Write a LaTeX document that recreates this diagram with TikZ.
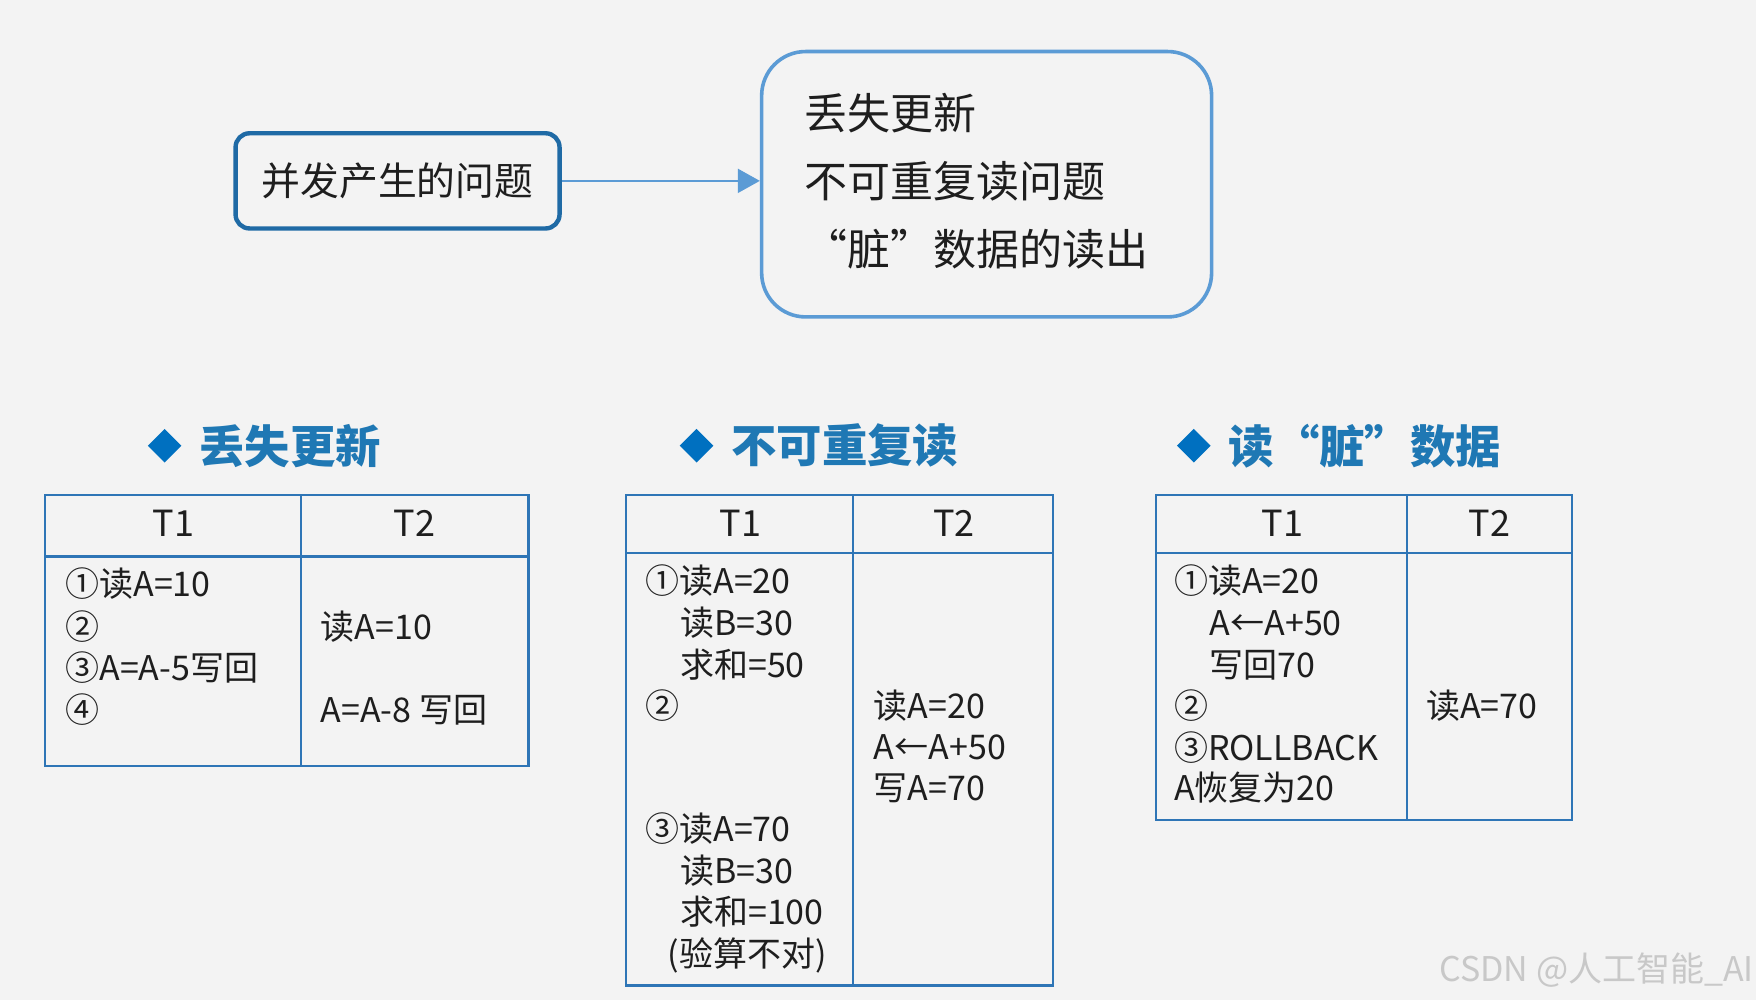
\documentclass[tikz,border=0pt]{standalone}
\usepackage{fontspec}
\setmainfont{Noto Sans CJK SC}
\usetikzlibrary{arrows.meta,shapes.geometric}

\definecolor{bgc}{RGB}{243,243,243}
\definecolor{boxdark}{RGB}{31,106,165}
\definecolor{boxlight}{RGB}{91,155,213}
\definecolor{diac}{RGB}{0,112,192}
\definecolor{headc}{RGB}{31,120,180}
\definecolor{rulec}{RGB}{46,117,182}
\definecolor{ink}{RGB}{30,30,30}
\definecolor{wmc}{RGB}{200,200,200}

\tikzset{
    cellt/.style={anchor=west, inner sep=0pt, text height=0.88em, text depth=0.12em, yshift=-2.8pt, text=ink, font=\fontsize{17}{20}\selectfont},
    headt/.style={cellt, anchor=center, font=\fontsize{18}{20}\selectfont},
    tabrule/.style={draw=rulec, line width=1.1pt}
}

\begin{document}
\begin{tikzpicture}[x=0.56pt,y=-0.56pt]
            \fill[bgc] (0,0) rectangle (1568,893);
            \useasboundingbox (0,0) rectangle (1568,893);
            \node[draw=boxdark, line width=2.2pt, rounded corners=7pt, minimum width=162pt, minimum height=47.6pt, text=ink, font=\fontsize{19.4}{22}\selectfont] (cause) at (355,161.5) {并发产生的问题};
            \node[draw=boxlight, line width=1.8pt, rounded corners=22pt, minimum width=225pt, minimum height=132.7pt] (probs) at (881,164.5) {};
            \node[anchor=west, align=left, inner sep=0pt, text=ink, font=\fontsize{21.5}{34}\selectfont] (plist) at (718,162) {丢失更新\\不可重复读问题\\“脏”数据的读出};
            \draw[boxlight, line width=0.9pt, -{Triangle[length=11pt,width=12pt]}] (cause.east) -- (cause.east -| probs.west);
            \foreach \x/\t [count=\i] in {147/丢失更新, 622/不可重复读, 1066/读“脏”数据} {
                \node[diamond, fill=diac, inner sep=0pt, minimum size=17pt] (d\i) at (\x,398) {};
                \node[anchor=west, inner sep=0pt, text=headc, font=\fontsize{22.7}{26}\selectfont\bfseries] (h\i) at ([xshift=8.5pt]d\i.east) {\t};
            }
            \draw[tabrule] (40,442) rectangle (472,684) (269,442) -- (269,684) (40,497) -- (472,497);
            \draw[tabrule] (559,442) rectangle (940,880) (762,442) -- (762,880) (559,494) -- (940,494);
            \draw[tabrule] (1032,442) rectangle (1404,732) (1256,442) -- (1256,732) (1032,494) -- (1404,494);
            \foreach \x/\t [count=\i] in {155/T1, 370/T2, 661/T1, 852/T2, 1145/T1, 1330/T2}
                \node[headt] (th\i) at (\x,467) {\t};
            \foreach \y/\t [count=\i] in {521/①读A=10, 559/②, 596/③A=A-5写回, 633/④}
                \node[cellt] (la\i) at (58,\y) {\t};
            \foreach \y/\t [count=\i] in {559/读A=10, 633/A=A-8 写回}
                \node[cellt] (lb\i) at (286,\y) {\t};
            \foreach \x/\y/\t [count=\i] in {576/518/①读A=20, 607/556/读B=30, 607/593/求和=50, 576/630/②, 576/740/③读A=70, 607/777/读B=30, 607/814/求和=100, 596/851/(验算不对)}
                \node[cellt] (ma\i) at (\x,\y) {\t};
            \foreach \y/\t [count=\i] in {630/读A=20, 666/A←A+50, 703/写A=70}
                \node[cellt] (mb\i) at (780,\y) {\t};
            \foreach \x/\y/\t [count=\i] in {1048/518/①读A=20, 1080/556/A←A+50, 1080/593/写回70, 1048/630/②, 1048/667/③ROLLBACK, 1048/703/A恢复为20}
                \node[cellt] (ra\i) at (\x,\y) {\t};
            \node[cellt] (rb1) at (1273,630) {读A=70};
            \node[anchor=west, inner sep=0pt, text=wmc, font=\fontsize{17}{20}\selectfont] (wm) at (1285,866) {CSDN @人工智能\_AI};
\end{tikzpicture}
\end{document}
